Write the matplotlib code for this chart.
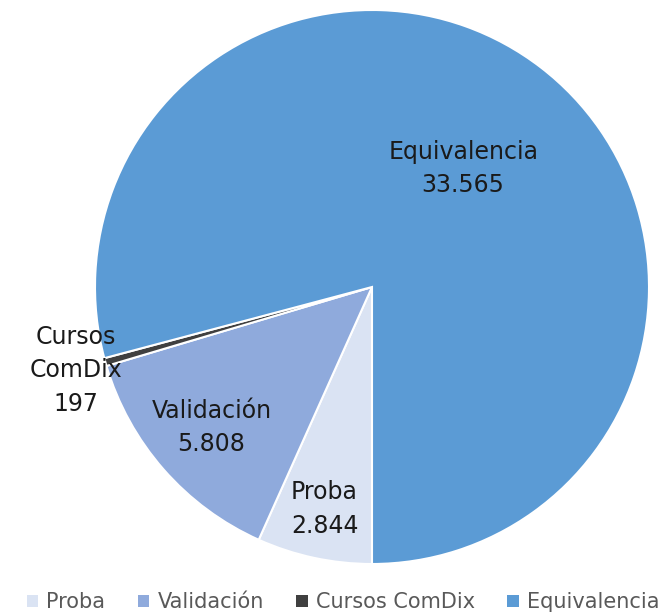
import numpy as np
import matplotlib
matplotlib.use("Agg")
import matplotlib.pyplot as plt
from matplotlib.patches import Patch

categories = ["Proba", "Validación", "Cursos ComDix", "Equivalencia"]
values = [2844, 5808, 197, 33565]
colors = ["#DAE3F3", "#8FAADC", "#404040", "#5B9BD5"]
slice_labels = ["Proba", "Validación", "Cursos\nComDix", "Equivalencia"]
label_radius = [0.82, 0.77, 1.11, 0.54]

plt.rcParams["font.family"] = ["DejaVu Sans"]

W, H = 670, 614
fig = plt.figure(figsize=(W / 100, H / 100), dpi=100)
cx, cy, r = 372, 287, 277
ax = fig.add_axes([(cx - r) / W, (H - cy - r) / H, 2 * r / W, 2 * r / H])

wedges, _ = ax.pie(values, colors=colors, startangle=-90, counterclock=False,
                   radius=1.0, wedgeprops=dict(edgecolor="white", linewidth=1.5))

def fmt(v):
    return f"{v:,}".replace(",", ".")

for w, lab, val, d in zip(wedges, slice_labels, values, label_radius):
    ang = np.deg2rad((w.theta1 + w.theta2) / 2)
    ax.text(d * np.cos(ang), d * np.sin(ang), f"{lab}\n{fmt(val)}",
            ha="center", va="center", fontsize=17, color="#1a1a1a",
            linespacing=1.5)

ax.set_xlim(-1, 1)
ax.set_ylim(-1, 1)
ax.set_aspect("equal")
ax.axis("off")

handles = [Patch(facecolor=c, edgecolor="none") for c in colors]
fig.legend(handles, categories, loc="lower center", ncol=4, frameon=False,
           bbox_to_anchor=(0.512, -0.028), fontsize=15, handlelength=0.55,
           handleheight=0.55, handletextpad=0.4, columnspacing=1.55,
           labelcolor="#595959")

fig.savefig("out.png", dpi=100)
